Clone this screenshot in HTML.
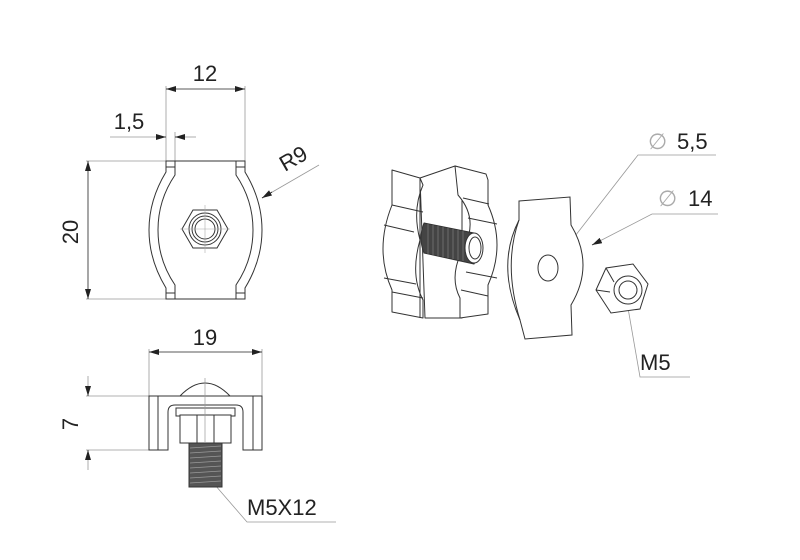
<!DOCTYPE html>
<html><head><meta charset="utf-8"><style>
html,body{margin:0;padding:0;background:#fff;}
svg{display:block;}
text{font-family:"Liberation Sans",sans-serif;fill:#222;}
</style></head><body>
<svg width="800" height="560" viewBox="0 0 800 560" xmlns="http://www.w3.org/2000/svg">
<defs>
<marker id="a" markerWidth="10" markerHeight="6" refX="10" refY="3" orient="auto-start-reverse" markerUnits="userSpaceOnUse"><path d="M0,0 L10,3 L0,6 z" fill="#222"/></marker>
</defs>
<g stroke="#999" stroke-width="0.8" fill="none">
<line x1="166" y1="86" x2="166" y2="161"/><line x1="245" y1="86" x2="245" y2="161"/>
<line x1="175" y1="132" x2="175" y2="161"/>
<line x1="86" y1="161" x2="166" y2="161"/><line x1="86" y1="299" x2="166" y2="299"/>
<line x1="110" y1="137" x2="156" y2="137"/><line x1="185" y1="137" x2="196" y2="137"/>
<line x1="149" y1="349" x2="149" y2="396"/><line x1="262" y1="349" x2="262" y2="396"/>
<line x1="86" y1="396" x2="149" y2="396"/><line x1="86" y1="450" x2="149" y2="450"/>
<line x1="88" y1="376" x2="88" y2="386"/><line x1="88" y1="460" x2="88" y2="470"/>
<polyline points="215,485 247,522 336,522"/>
<polyline points="558,258 638,155 716,155"/>
<polyline points="594,244 652,214 718,214"/>
<polyline points="628,308 640,377 690,377"/>
<line x1="319" y1="165" x2="262" y2="198"/>
</g>
<g stroke="#222" stroke-width="0.8" fill="none">
<line x1="166" y1="89" x2="245" y2="89" marker-start="url(#a)" marker-end="url(#a)"/>
<line x1="156" y1="137" x2="166" y2="137" marker-end="url(#a)"/>
<line x1="185" y1="137" x2="175" y2="137" marker-end="url(#a)"/>
<line x1="88" y1="161" x2="88" y2="299" marker-start="url(#a)" marker-end="url(#a)"/>
<line x1="149" y1="352" x2="262" y2="352" marker-start="url(#a)" marker-end="url(#a)"/>
<line x1="88" y1="386" x2="88" y2="396" marker-end="url(#a)"/>
<line x1="88" y1="460" x2="88" y2="450" marker-end="url(#a)"/>
<line x1="272" y1="192" x2="262" y2="198" marker-end="url(#a)"/>
<line x1="564" y1="250" x2="558" y2="258" marker-end="url(#a)"/>
<line x1="600" y1="241" x2="592" y2="245" marker-end="url(#a)"/>
</g>
<!-- top view part -->
<g stroke="#333" stroke-width="1" fill="#fff">
<path d="M166,161 L245,161 L245,172 Q262,200 262,230 Q262,260 245,288 L245,299 L166,299 L166,288 Q149,260 149,230 Q149,200 166,172 Z"/>
<path d="M175,161 L175,175 Q158,200 158,230 Q158,260 175,285 L175,299" fill="none"/>
<path d="M236,161 L236,175 Q253,200 253,230 Q253,260 236,285 L236,299" fill="none"/>
<rect x="166" y="161" width="9" height="6" fill="none"/><rect x="236" y="161" width="9" height="6" fill="none"/>
<rect x="166" y="293" width="9" height="6" fill="none"/><rect x="236" y="293" width="9" height="6" fill="none"/>
<polygon points="182,229 193,210 217,210 228,229 217,248 193,248"/>
<circle cx="205" cy="229" r="16"/><circle cx="205" cy="229" r="13"/><circle cx="205" cy="229" r="10"/>
</g>
<g stroke="#aaa" stroke-width="0.6"><line x1="205" y1="205" x2="205" y2="253"/><line x1="180" y1="229" x2="230" y2="229"/></g>
<!-- bottom view -->
<g stroke="#333" stroke-width="1" fill="#fff">
<path d="M180,396 Q205,370 230,396 Z"/>
<path d="M149,396 L262,396 L262,450 L243,450 L243,412 Q243,405 236,405 L175,405 Q168,405 168,412 L168,450 L149,450 Z"/>
<line x1="158" y1="396" x2="158" y2="450"/><line x1="253" y1="396" x2="253" y2="450"/>
<rect x="176" y="408" width="59" height="8"/>
<rect x="180" y="415" width="51" height="28"/>
<line x1="197" y1="415" x2="197" y2="443"/><line x1="214" y1="415" x2="214" y2="443"/>
<rect x="189" y="443" width="33" height="44" fill="#555"/>
</g>
<g stroke="#999" stroke-width="0.7">
<line x1="190" y1="448" x2="221" y2="446"/><line x1="190" y1="453" x2="221" y2="451"/><line x1="190" y1="458" x2="221" y2="456"/><line x1="190" y1="463" x2="221" y2="461"/><line x1="190" y1="468" x2="221" y2="466"/><line x1="190" y1="473" x2="221" y2="471"/><line x1="190" y1="478" x2="221" y2="476"/><line x1="190" y1="483" x2="221" y2="481"/>
<line x1="205" y1="378" x2="205" y2="443"/>
</g>
<!-- iso clamp body -->
<g stroke="#333" stroke-width="1" fill="#fff" stroke-linejoin="round">
<path d="M420,178 L455,166 L462,168 L462,318 L425,318 Z"/>
<path d="M392,170 L420,178 L423,185 Q412,210 420,240 Q410,275 423,300 L423,318 L392,312 L392,290 Q374,250 392,205 Z"/>
<path d="M455,166 L486,174 L488,180 L488,205 Q506,245 488,285 L488,314 L460,318 L460,298 Q448,275 465,245 Q478,218 458,195 Z"/>
<path d="M420,178 L420,318" fill="none"/>
<path d="M392,205 L423,212 M384,225 L414,232 M384,278 L416,284 M392,292 L423,298 M463,198 L489,204 M468,218 L497,224 M466,272 L497,278 M461,290 L488,296" fill="none"/>
<path d="M424,223 L474,233 Q483,248 474,264 L424,253 Q418,238 424,223 Z" fill="#444"/>
<ellipse cx="474" cy="248" rx="9" ry="15" fill="#fff"/>
<ellipse cx="475" cy="248" rx="6" ry="11" fill="#fff"/>
</g>
<g stroke="#888" stroke-width="0.6">
<line x1="428" y1="224" x2="428" y2="254"/><line x1="433" y1="225" x2="433" y2="255"/><line x1="438" y1="226" x2="438" y2="256"/><line x1="443" y1="227" x2="443" y2="257"/><line x1="448" y1="228" x2="448" y2="258"/><line x1="453" y1="229" x2="453" y2="259"/><line x1="458" y1="230" x2="458" y2="260"/><line x1="463" y1="231" x2="463" y2="261"/>
</g>
<!-- plate -->
<g stroke="#333" stroke-width="1" fill="#fff">
<path d="M519,201 L570,197 L571,225 Q595,265 571,305 L572,335 L525,339 L520,320 Q496,265 519,220 Z"/>
<path d="M519,220 Q503,265 520,320" fill="none"/>
<ellipse cx="548" cy="268" rx="10" ry="13"/>
<polygon points="596,290 606,268 633,264 648,284 640,309 611,313"/>
<line x1="606" y1="268" x2="614" y2="282" /><line x1="596" y1="290" x2="610" y2="292"/>
<circle cx="628" cy="290" r="14"/><circle cx="628" cy="290" r="9"/>
</g>
<!-- texts -->
<text x="205" y="81" font-size="22" text-anchor="middle">12</text>
<text x="129" y="129" font-size="22" text-anchor="middle">1,5</text>
<text x="78" y="232" font-size="22" text-anchor="middle" transform="rotate(-90 78 232)">20</text>
<text x="297" y="165" font-size="22" text-anchor="middle" transform="rotate(-30 297 165)">R9</text>
<text x="205" y="345" font-size="22" text-anchor="middle">19</text>
<text x="78" y="424" font-size="22" text-anchor="middle" transform="rotate(-90 78 424)">7</text>
<text x="247" y="515" font-size="22">M5X12</text>
<text x="648" y="149" font-size="22" style="fill:#aaa">∅</text>
<text x="677" y="149" font-size="22">5,5</text>
<text x="658" y="206" font-size="22" style="fill:#aaa">∅</text>
<text x="688" y="206" font-size="22">14</text>
<text x="640" y="370" font-size="22">M5</text>
</svg>
</body></html>
